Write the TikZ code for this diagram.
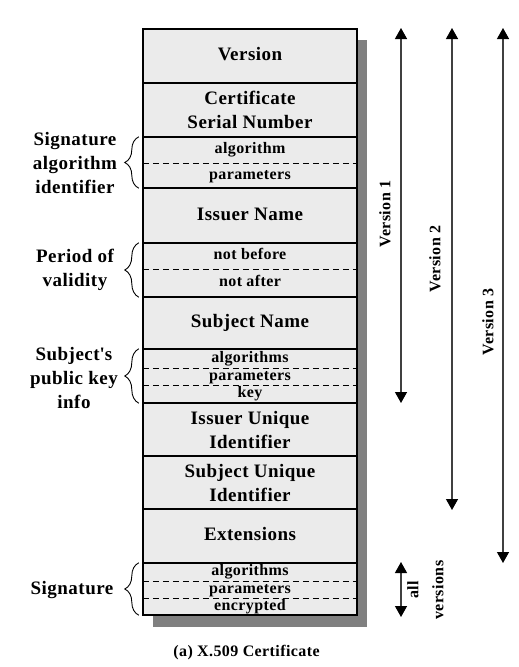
\documentclass[tikz,border=0pt]{standalone}
\usepackage{fontspec}
\setmainfont{Liberation Serif}[LetterSpace=2.5]
\usetikzlibrary{arrows.meta,decorations.pathreplacing}
\definecolor{boxgray}{HTML}{EBEBEB}
\definecolor{shadowgray}{HTML}{808080}
\definecolor{arrowgray}{HTML}{404040}
\begin{document}
\begin{tikzpicture}[x=1pt,y=1pt,
  row/.style={rectangle, fill=boxgray, minimum width=214pt, inner sep=0pt,
    font=\fontsize{19}{24}\selectfont\bfseries, align=center},
  oneline/.style={text height=13pt, text depth=4pt},
  smalltxt/.style={inner sep=0pt, font=\fontsize{16}{17}\selectfont\bfseries, text height=11pt, text depth=3.5pt},
  sepline/.style={draw=black, line width=1.8pt},
  dashline/.style={draw=black, line width=0.9pt, dash pattern=on 6pt off 4pt},
  sidelbl/.style={inner sep=0pt, font=\fontsize{19}{24}\selectfont\bfseries, align=center},
  brc/.style={draw=black, line width=0.9pt, decorate, decoration={brace, amplitude=14pt}},
  vlbl/.style={inner sep=0pt, rotate=90, font=\fontsize{16}{25}\selectfont\bfseries, align=center},
  varrow/.style={draw=arrowgray, line width=1.3pt,
    {Triangle[width=12pt,length=11pt,color=black]}-{Triangle[width=12pt,length=11pt,color=black]}}
]
\useasboundingbox (0,0) rectangle (519,-667);
% shadow
\fill[shadowgray] (153,-40) rectangle (367,-627);
% rows
\node[row, oneline, minimum height=54pt] (ver) at (250,-56) {Version};
\node[row, minimum height=54pt] (csn) at (250,-109.5) {Certificate\\Serial Number};
\node[row, minimum height=51pt] (sig) at (250,-162.5) {};
\node[smalltxt] (sigalg) at (250,-150) {algorithm};
\node[smalltxt] (sigpar) at (250,-176) {parameters};
\node[row, oneline, minimum height=54pt] (iss) at (250,-215.5) {Issuer Name};
\node[row, minimum height=54pt] (val) at (250,-270) {};
\node[smalltxt] (nb) at (250,-256) {not before};
\node[smalltxt] (na) at (250,-283) {not after};
\node[row, oneline, minimum height=52pt] (sub) at (250,-323) {Subject Name};
\node[row, minimum height=54pt] (pk) at (250,-376) {};
\node[smalltxt] (pkalg) at (250,-358.5) {algorithms};
\node[smalltxt] (pkpar) at (250,-376.5) {parameters};
\node[smalltxt] (pkkey) at (250,-394) {key};
\node[row, minimum height=53pt] (iui) at (250,-429.5) {Issuer Unique\\Identifier};
\node[row, minimum height=53pt] (sui) at (250,-482.5) {Subject Unique\\Identifier};
\node[row, oneline, minimum height=54pt] (ext) at (250,-536) {Extensions};
\node[row, minimum height=52pt] (sg) at (250,-589) {};
\node[smalltxt] (sgalg) at (250,-572) {algorithms};
\node[smalltxt] (sgpar) at (250,-589.5) {parameters};
\node[smalltxt] (sgenc) at (250,-606.5) {encrypted};
% dashed separators
\draw[dashline] (sig.west |- 0,-163) -- (sig.east |- 0,-163);
\draw[dashline] (val.west |- 0,-269) -- (val.east |- 0,-269);
\draw[dashline] (pk.west |- 0,-368) -- (pk.east |- 0,-368);
\draw[dashline] (pk.west |- 0,-385) -- (pk.east |- 0,-385);
\draw[dashline] (sg.west |- 0,-581) -- (sg.east |- 0,-581);
\draw[dashline] (sg.west |- 0,-598) -- (sg.east |- 0,-598);
% solid separators
\foreach \r in {ver,csn,sig,iss,val,sub,pk,iui,sui,ext}
  \draw[sepline] (\r.south west) -- (\r.south east);
% outer border
\draw[line width=2pt] (ver.north west) rectangle (sg.south east);
% side labels and braces
\node[sidelbl] (lsig) at (75,-163) {Signature\\algorithm\\identifier};
\draw[brc] ([xshift=-4pt]sig.south west) -- ([xshift=-4pt]sig.north west);
\node[sidelbl] (lval) at (75,-270) {Period of\\validity};
\draw[brc] ([xshift=-4pt]val.south west) -- ([xshift=-4pt]val.north west);
\node[sidelbl] (lpk) at (74,-378) {Subject\textquotesingle s\\public key\\info};
\draw[brc] ([xshift=-4pt]pk.south west) -- ([xshift=-4pt]pk.north west);
\node[sidelbl] (lsg) at (72,-590) {Signature};
\draw[brc] ([xshift=-4pt]sg.south west) -- ([xshift=-4pt]sg.north west);
% version arrows
\coordinate (v1top) at (401,-28);
\coordinate (v1bot) at (401,-403);
\coordinate (v2top) at (452,-28);
\coordinate (v2bot) at (452,-510);
\coordinate (v3top) at (503,-28);
\coordinate (v3bot) at (503,-563);
\coordinate (avtop) at (401,-562);
\coordinate (avbot) at (401,-617);
\draw[varrow] (v1top) -- (v1bot);
\draw[varrow] (v2top) -- (v2bot);
\draw[varrow] (v3top) -- (v3bot);
\draw[varrow] (avtop) -- (avbot);
\node[vlbl] (lv1) at (385,-214) {Version 1};
\node[vlbl] (lv2) at (435,-259) {Version 2};
\node[vlbl] (lv3) at (488,-322) {Version 3};
\node[vlbl] (lav) at (425.5,-590) {all\\versions};
% caption
\node[inner sep=0pt, font=\fontsize{16}{18}\selectfont\bfseries] (cap) at (246.5,-653) {(a) X.509 Certificate};
\end{tikzpicture}
\end{document}
